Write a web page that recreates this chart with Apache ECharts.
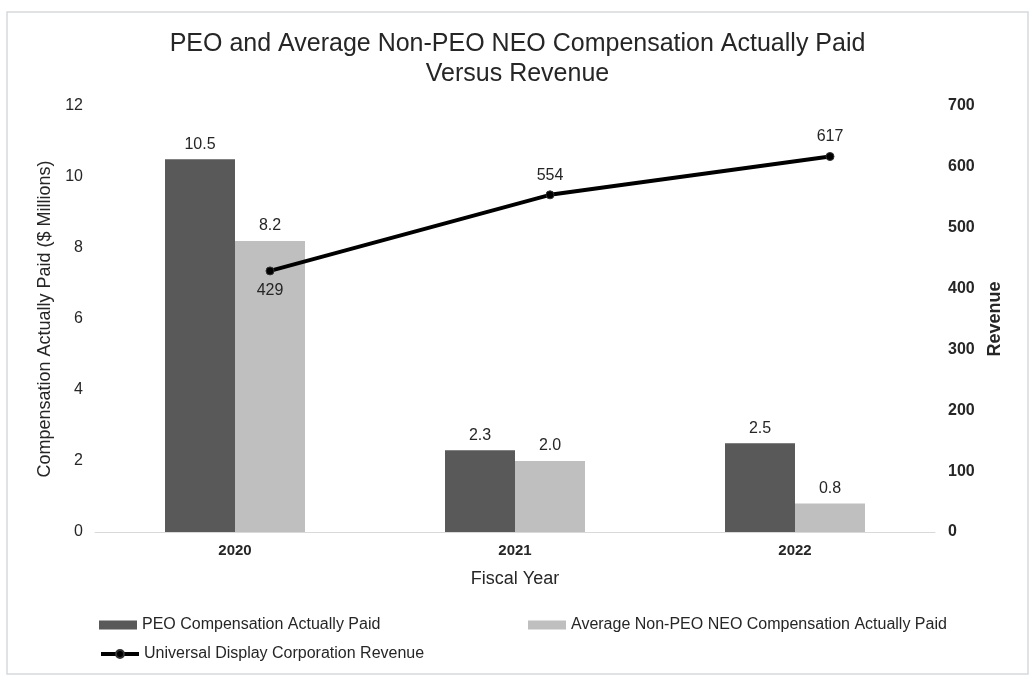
<!DOCTYPE html>
<html><head><meta charset="utf-8">
<script src="https://cdn.jsdelivr.net/npm/echarts@6/dist/echarts.min.js"></script>
<style>html,body{margin:0;padding:0;background:#fff}#c{width:1035px;height:683px}</style>
</head><body><div id="c"></div>
<script>
const categories = ['2020', '2021', '2022'];
const peoComp = [10.5, 2.3, 2.5];
const neoComp = [8.2, 2.0, 0.8];
const revenue = [429, 554, 617];
const revenueLabelPos = ['bottom', 'top', 'top'];
const leftTicks = {min: 0, max: 12, interval: 2};
const rightTicks = {min: 0, max: 700, interval: 100};

const chart = echarts.init(document.getElementById('c'));
const font = 'Liberation Sans, Arial, sans-serif';
const txt = '#262626';
chart.setOption({
  animation: false,
  backgroundColor: '#fff',
  textStyle: {fontFamily: font},
  graphic: [{type: 'rect', shape: {x: 7, y: 12, width: 1021, height: 662}, style: {fill: 'none', stroke: '#d5dade', lineWidth: 1.5}}],
  title: {
    text: 'PEO and Average Non-PEO NEO Compensation Actually Paid\nVersus Revenue',
    left: 'center', top: 24,
    textStyle: {fontFamily: font, fontSize: 25, fontWeight: 'normal', color: txt, lineHeight: 30}
  },
  legend: [
    {left: 94, top: 612, itemWidth: 38, itemHeight: 9, icon: 'rect', data: ['PEO Compensation Actually Paid'],
     textStyle: {fontFamily: font, fontSize: 16, color: txt}},
    {left: 523, top: 612, itemWidth: 38, itemHeight: 9, icon: 'rect', data: ['Average Non-PEO NEO Compensation Actually Paid'],
     textStyle: {fontFamily: font, fontSize: 16, color: txt}},
    {left: 94, top: 641, itemWidth: 38, itemHeight: 10, data: ['Universal Display Corporation Revenue'],
     lineStyle: {width: 4, color: '#000'},
     textStyle: {fontFamily: font, fontSize: 16, color: txt}}
  ],
  grid: {left: 95, right: 100, top: 106, bottom: 151},
  xAxis: [
    {type: 'category', data: categories,
     axisLine: {lineStyle: {color: '#d9d9d9', width: 1}}, axisTick: {show: false},
     axisLabel: {fontFamily: font, fontSize: 15, fontWeight: 'bold', color: txt, margin: 11},
     name: 'Fiscal Year', nameLocation: 'middle', nameGap: 38,
     nameTextStyle: {fontFamily: font, fontSize: 18, color: txt}},
    {type: 'value', min: -0.625, max: 2.375, show: false}
  ],
  yAxis: [
    {type: 'value', min: leftTicks.min, max: leftTicks.max, interval: leftTicks.interval,
     splitLine: {show: false}, axisLine: {show: false}, axisTick: {show: false},
     axisLabel: {fontFamily: font, fontSize: 16, color: txt, margin: 12},
     name: 'Compensation Actually Paid ($ Millions)', nameLocation: 'middle', nameGap: 38,
     nameTextStyle: {fontFamily: font, fontSize: 18, color: txt}},
    {type: 'value', min: rightTicks.min, max: rightTicks.max, interval: rightTicks.interval,
     splitLine: {show: false}, axisLine: {show: false}, axisTick: {show: false},
     axisLabel: {fontFamily: font, fontSize: 16, fontWeight: 'bold', color: txt, margin: 13},
     name: 'Revenue', nameLocation: 'middle', nameGap: 47, nameRotate: 90,
     nameTextStyle: {fontFamily: font, fontSize: 18, fontWeight: 'bold', color: txt}}
  ],
  series: [
    {name: 'PEO Compensation Actually Paid', type: 'bar', data: peoComp, barWidth: '25%', barGap: '0%',
     itemStyle: {color: '#595959'},
     label: {show: true, position: 'top', fontFamily: font, fontSize: 16, color: txt, distance: 7, formatter: p => p.value.toFixed(1)}},
    {name: 'Average Non-PEO NEO Compensation Actually Paid', type: 'bar', data: neoComp, barWidth: '25%', barGap: '0%',
     itemStyle: {color: '#bfbfbf'},
     label: {show: true, position: 'top', fontFamily: font, fontSize: 16, color: txt, distance: 7, formatter: p => p.value.toFixed(1)}},
    {name: 'Universal Display Corporation Revenue', type: 'line', xAxisIndex: 1, yAxisIndex: 1,
     data: revenue.map((v, i) => ({value: [i, v], label: {position: revenueLabelPos[i]}})),
     lineStyle: {color: '#000', width: 4}, itemStyle: {color: '#000', borderColor: '#333', borderWidth: 1},
     symbol: 'circle', symbolSize: 8,
     label: {show: true, fontFamily: font, fontSize: 16, color: txt, distance: 7, formatter: p => p.value[1]}}
  ]
});
</script></body></html>
